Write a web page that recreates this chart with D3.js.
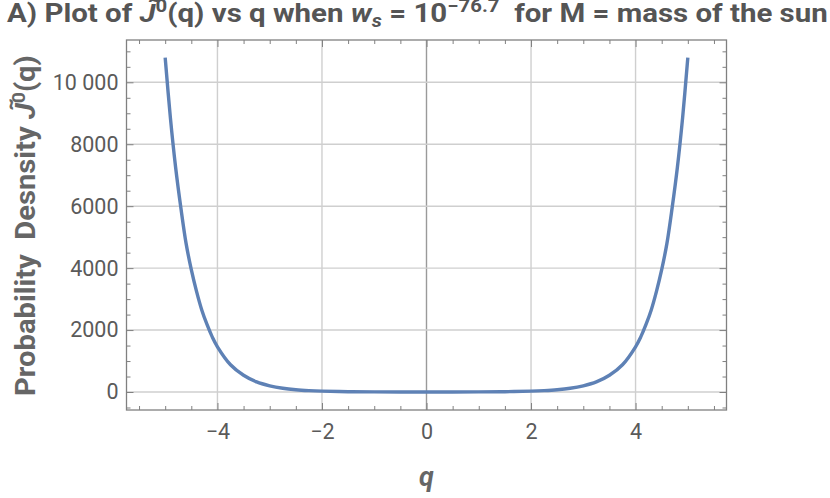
<!DOCTYPE html>
<html>
<head>
<meta charset="utf-8">
<script src="https://cdn.jsdelivr.net/npm/d3@7"></script>
<style>
body { margin: 0; background: #fff; }
svg text { font-family: Roboto, "Liberation Sans", sans-serif; }
.grid line { stroke: #cfcfcf; stroke-width: 1.4px; }
.axis line { stroke: #808080; }
.axis text { font-size: 21.5px; fill: #5a5a5a; }
.title { font-size: 26px; font-weight: bold; fill: #555; }
.ylabel { font-size: 27px; font-weight: bold; fill: #666; }
.xlabel { font-size: 27px; font-weight: bold; font-style: italic; fill: #666; }
</style>
</head>
<body>
<svg width="830" height="498"></svg>
<script>

// values
var qValues = [-5, -4.9, -4.8, -4.7, -4.6, -4.5, -4.4, -4.3, -4.2, -4.1, -4,
	-3.75, -3.5, -3.25, -3, -2.75, -2.5, -2.25, -2, -1.5, -1, -0.5, 0,
	0.5, 1, 1.5, 2, 2.25, 2.5, 2.75, 3, 3.25, 3.5, 3.75,
	4, 4.1, 4.2, 4.3, 4.4, 4.5, 4.6, 4.7, 4.8, 4.9, 5];
var densityValues = [10800, 8850, 7250, 5950, 4800, 3950, 3250, 2650, 2180, 1780, 1460,
	880, 540, 325, 200, 120, 72, 44, 27, 10, 4, 1.3, 1,
	1.3, 4, 10, 27, 44, 72, 120, 200, 325, 540, 880,
	1460, 1780, 2180, 2650, 3250, 3950, 4800, 5950, 7250, 8850, 10800];

var xMajorTicks = [-4, -2, 0, 2, 4];
var xMinorTicks = [-5.5, -5, -4.5, -3.5, -3, -2.5, -1.5, -1, -0.5, 0.5, 1, 1.5, 2.5, 3, 3.5, 4.5, 5, 5.5];
var yMajorTicks = [0, 2000, 4000, 6000, 8000, 10000];
var yMinorTicks = [-500, 500, 1000, 1500, 2500, 3000, 3500, 4500, 5000, 5500, 6500, 7000, 7500,
	8500, 9000, 9500, 10500, 11000];

var svg = d3.select("svg");
var plotLeft = 126.5, plotRight = 726.5, plotTop = 40, plotBottom = 410;

var x = d3.scaleLinear().domain([-5.74, 5.74]).range([plotLeft, plotRight]);
var y = d3.scaleLinear().domain([-581, 11366]).range([plotBottom, plotTop]);

var data = qValues.map(function(q, i) { return {q: q, v: densityValues[i]}; });

// grid
var grid = svg.append("g").attr("class", "grid");
grid.selectAll("line.v")
	.data(xMajorTicks)
	.enter().append("line")
	.attr("x1", function(d) { return x(d); })
	.attr("x2", function(d) { return x(d); })
	.attr("y1", plotTop)
	.attr("y2", plotBottom)
	.style("stroke", function(d) { return d === 0 ? "#9a9a9a" : null; });
grid.selectAll("line.h")
	.data(yMajorTicks)
	.enter().append("line")
	.attr("x1", plotLeft)
	.attr("x2", plotRight)
	.attr("y1", function(d) { return y(d); })
	.attr("y2", function(d) { return y(d); });

// axes (ticks point inward)
function fmt(d) { return d >= 10000 ? "10 000" : d3.format("")(d); }
function cleanAxis(g) { g.select(".domain").remove(); }

svg.append("g").attr("class", "axis").attr("transform", "translate(0," + plotBottom + ")")
	.call(d3.axisBottom(x).tickValues(xMinorTicks).tickSize(-4).tickFormat("")).call(cleanAxis);
svg.append("g").attr("class", "axis").attr("transform", "translate(0," + plotBottom + ")")
	.call(d3.axisBottom(x).tickValues(xMajorTicks).tickSize(-7).tickPadding(14)).call(cleanAxis);
svg.append("g").attr("class", "axis").attr("transform", "translate(0," + plotTop + ")")
	.call(d3.axisTop(x).tickValues(xMinorTicks).tickSize(-4).tickFormat("")).call(cleanAxis);
svg.append("g").attr("class", "axis").attr("transform", "translate(0," + plotTop + ")")
	.call(d3.axisTop(x).tickValues(xMajorTicks).tickSize(-7).tickFormat("")).call(cleanAxis);

svg.append("g").attr("class", "axis").attr("transform", "translate(" + plotLeft + ",0)")
	.call(d3.axisLeft(y).tickValues(yMinorTicks).tickSize(-4).tickFormat("")).call(cleanAxis);
svg.append("g").attr("class", "axis").attr("transform", "translate(" + plotLeft + ",0)")
	.call(d3.axisLeft(y).tickValues(yMajorTicks).tickSize(-7).tickPadding(8).tickFormat(fmt)).call(cleanAxis);
svg.append("g").attr("class", "axis").attr("transform", "translate(" + plotRight + ",0)")
	.call(d3.axisRight(y).tickValues(yMinorTicks).tickSize(-4).tickFormat("")).call(cleanAxis);
svg.append("g").attr("class", "axis").attr("transform", "translate(" + plotRight + ",0)")
	.call(d3.axisRight(y).tickValues(yMajorTicks).tickSize(-7).tickFormat("")).call(cleanAxis);

svg.selectAll(".axis").attr("font-family", null).attr("font-size", null);

// frame
svg.append("rect")
	.attr("x", plotLeft).attr("y", plotTop)
	.attr("width", plotRight - plotLeft).attr("height", plotBottom - plotTop)
	.attr("fill", "none").attr("stroke", "#808080").attr("stroke-width", 1.3);

// curve
var line = d3.line()
	.x(function(d) { return x(d.q); })
	.y(function(d) { return y(d.v); })
	.curve(d3.curveCatmullRom.alpha(0.5));

svg.append("path")
	.datum(data)
	.attr("fill", "none")
	.attr("stroke", "#5E81B5")
	.attr("stroke-width", 3.4)
	.attr("d", line);

// title
var title = svg.append("text").attr("class", "title")
	.attr("x", 0).attr("y", 21)
	.attr("xml:space", "preserve");
title.append("tspan").text("A) Plot of ");
title.append("tspan").style("font-style", "italic").text("J\u0303");
title.append("tspan").attr("dy", -10).style("font-size", "18px").text("0");
title.append("tspan").attr("dy", 10).text("(q) vs q when ");
title.append("tspan").style("font-style", "italic").text("w");
title.append("tspan").attr("dy", 5).style("font-style", "italic").style("font-size", "18px").text("s");
title.append("tspan").attr("dy", -5).text(" = 10");
title.append("tspan").attr("dy", -10).style("font-size", "18px").text("\u221276.7");
title.append("tspan").attr("dy", 10).text("  for M = mass of the sun");
fitText(title, 7, 828, 22, false);

// y label
var ylab = svg.append("text").attr("class", "ylabel").attr("xml:space", "preserve");
ylab.append("tspan").text("Probability  Desnsity ");
ylab.append("tspan").style("font-style", "italic").text("J\u0303");
ylab.append("tspan").attr("dy", -10).style("font-size", "18px").text("0");
ylab.append("tspan").attr("dy", 10).text("(q)");
fitText(ylab, 55, 396, 35, true);

// x label
svg.append("text").attr("class", "xlabel")
	.attr("x", x(0)).attr("y", 486)
	.attr("text-anchor", "middle")
	.text("q");

function fitText(sel, from, to, base, rotated) {
	var w = sel.node().getComputedTextLength();
	var k = (to - from) / w;
	if (!rotated) {
		sel.attr("transform", "translate(" + from + "," + base + ") scale(" + k + ",1)").attr("y", 0);
	} else {
		sel.attr("transform", "translate(" + base + "," + to + ") rotate(-90) scale(" + k + ",1)");
	}
}
</script>
</body>
</html>
